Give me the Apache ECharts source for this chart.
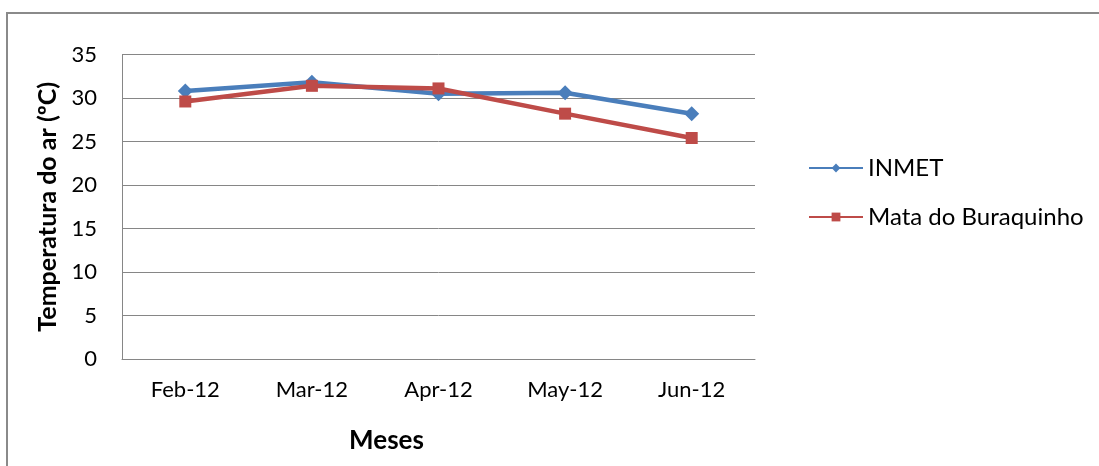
<!DOCTYPE html>
<html>
<head>
<meta charset="utf-8">
<script src="https://cdn.jsdelivr.net/npm/echarts@6/dist/echarts.min.js"></script>
<style>
  html, body { margin: 0; padding: 0; background: #fff; }
  #frame { position: absolute; left: 6px; top: 12px; width: 1093px; height: 454px;
           border-left: 2px solid #8a8a8a; border-top: 2px solid #8a8a8a; box-sizing: border-box; }
  #chart { position: absolute; left: 0; top: 0; width: 1099px; height: 466px; }
</style>
</head>
<body>
<div id="frame"></div>
<div id="chart"></div>
<script>
// Monthly mean air temperature, 2012
const months = ['Feb-12', 'Mar-12', 'Apr-12', 'May-12', 'Jun-12'];
const inmet = [30.8, 31.8, 30.5, 30.6, 28.2];
const mataBuraquinho = [29.6, 31.4, 31.1, 28.2, 25.4];
const yTicks = [0, 5, 10, 15, 20, 25, 30, 35];

const font = 'Lato, "Liberation Sans", sans-serif';
const chart = echarts.init(document.getElementById('chart'), null, { renderer: 'canvas' });

chart.setOption({
  animation: false,
  grid: { left: 122, right: 344, top: 54.5, bottom: 107, containLabel: false },
  legend: {
    orient: 'vertical',
    left: 803,
    top: 151,
    itemWidth: 54,
    itemHeight: 11,
    itemGap: 25,
    textStyle: { fontFamily: font, fontSize: 24, color: '#000' },
    data: ['INMET', 'Mata do Buraquinho']
  },
  xAxis: {
    type: 'category',
    data: months,
    boundaryGap: true,
    axisLine: { lineStyle: { color: '#868686', width: 1 } },
    axisTick: { show: false },
    axisLabel: { fontFamily: font, fontSize: 22, color: '#000', margin: 20 },
    name: 'Meses',
    nameLocation: 'middle',
    nameGap: 69,
    nameTextStyle: {
      fontFamily: font, fontSize: 26, fontWeight: 'bold', color: '#000',
      padding: [0, 104, 0, 0]
    }
  },
  yAxis: {
    type: 'value',
    min: yTicks[0],
    max: yTicks[yTicks.length - 1],
    interval: 5,
    axisLine: { show: true, lineStyle: { color: '#868686', width: 1 } },
    axisTick: { show: false },
    splitLine: { lineStyle: { color: '#868686', width: 1 } },
    axisLabel: { fontFamily: font, fontSize: 22, color: '#000', margin: 25 },
    name: 'Temperatura do ar (ºC)',
    nameLocation: 'middle',
    nameGap: 57,
    nameTextStyle: { fontFamily: font, fontSize: 25, fontWeight: 'bold', color: '#000' }
  },
  series: [
    {
      name: 'INMET',
      type: 'line',
      data: inmet,
      symbol: 'diamond',
      symbolSize: 15,
      lineStyle: { color: '#4A7EBB', width: 4.5 },
      itemStyle: { color: '#4A7EBB' },
      z: 2
    },
    {
      name: 'Mata do Buraquinho',
      type: 'line',
      data: mataBuraquinho,
      symbol: 'rect',
      symbolSize: 12,
      lineStyle: { color: '#BE4B48', width: 4.5 },
      itemStyle: { color: '#BE4B48' },
      z: 3
    }
  ]
});
</script>
</body>
</html>
